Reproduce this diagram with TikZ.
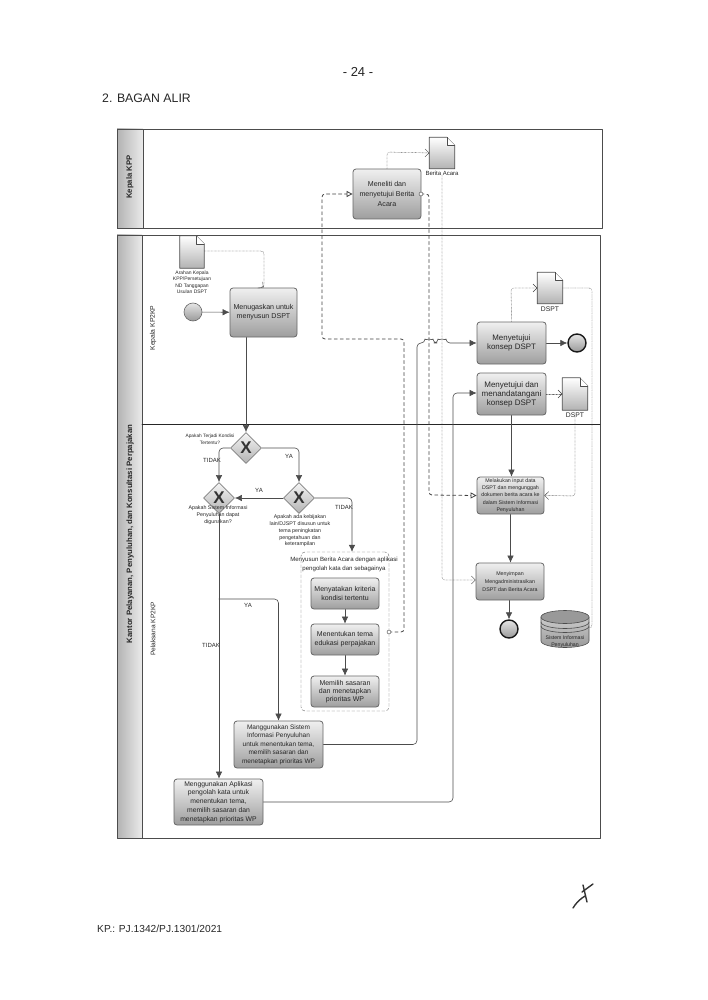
\documentclass[tikz,border=0pt]{standalone}
\usepackage{fontspec}
\setmainfont{Liberation Sans}
\usetikzlibrary{arrows.meta}
\usetikzlibrary{shapes.geometric}

\newcommand{\pxfont}[1]{\fontsize{#1}{#1}\selectfont}
\newcommand{\docshape}[1]{
  \draw[thick,color=black!70,top color=white,bottom color=black!30] (#1.north west) -- ([xshift=-8pt]#1.north east) -- ([yshift=-8pt]#1.north east) -- (#1.south east) -- (#1.south west) -- cycle;
  \draw[color=black!70,fill=white] ([xshift=-8pt]#1.north east) -- ([xshift=-8pt,yshift=-8pt]#1.north east) -- ([yshift=-8pt]#1.north east);
}

\begin{document}
\begin{tikzpicture}[x=1pt, y=-1pt, line cap = round, line join = round]
\tikzstyle{task}=[draw=black!60, thick, rounded corners=3pt, top color=black!6, bottom color=black!38, align=center, inner sep=0pt, text=black!85]
\tikzstyle{gate}=[diamond, draw=black!50, thick, top color=black!4, bottom color=black!30, inner sep=0pt, minimum width=31pt, minimum height=31pt, font=\pxfont{17}\bfseries, text=black!80]
\tikzstyle{startev}=[circle, draw=black!60, semithick, top color=black!10, bottom color=black!40, inner sep=0pt, minimum size=18pt]
\tikzstyle{endev}=[circle, draw=black!90, line width=1.4pt, top color=black!10, bottom color=black!40, inner sep=0pt, minimum size=18pt]
\tikzstyle{docbox}=[inner sep=0pt]
\tikzstyle{note}=[align=center, inner sep=0pt, text=black!85]
\tikzstyle{answer}=[note, font=\pxfont{6}]
\tikzstyle{flow}=[semithick, color=black!70, rounded corners=4pt, -{Latex[length=7pt,width=6.5pt]}]
\tikzstyle{msg}=[thick, dashed, color=black!75, rounded corners=3pt, -{Triangle[open,length=6pt,width=6pt]}]
\tikzstyle{assoc}=[densely dotted, color=black!75, rounded corners=3pt, -{Straight Barb[length=4pt,width=8pt]}]
\useasboundingbox (0,0) rectangle (708,1000);

\node[note, font=\pxfont{13}] (page) at (358,72) {- 24 -};
\node[note, font=\pxfont{12.3}, anchor=west] (title) at (102,98) {2. BAGAN ALIR};
\node[note, font=\pxfont{10.2}, anchor=west] (kpnum) at (97,929) {KP.: PJ.1342/PJ.1301/2021};

% lanes
\draw[semithick, color=black!70] (117,129) rectangle (602,228);
\draw[semithick, color=black!70, left color=black!30, right color=black!8] (117,129) rectangle (143,228);
\draw[semithick, color=black!70] (117,235) rectangle (600,838);
\draw[semithick, color=black!70, left color=black!30, right color=black!8] (117,235) rectangle (142,838);
\draw[thick, color=black!85] (142,424) -- (600,424);
\node[note, rotate=90, font=\pxfont{7.7}\bfseries] (kpp) at (130,177) {Kepala KPP};
\node[note, rotate=90, font=\pxfont{7.8}\bfseries] (kantor) at (130,534) {Kantor Pelayanan, Penyuluhan, dan Konsultasi Perpajakan};
\node[note, rotate=90, font=\pxfont{6.8}] (kepala) at (153,328) {Kepala KP2KP};
\node[note, rotate=90, font=\pxfont{6.6}] (pelaksana) at (153,629) {Pelaksana KP2KP};

% documents
\node[docbox, minimum width=24pt, minimum height=32pt] (arahan) at (192,252) {};
\node[docbox, minimum width=25pt, minimum height=31pt] (berita) at (442,153) {};
\node[docbox, minimum width=25pt, minimum height=31pt] (dspta) at (550,288) {};
\node[docbox, minimum width=25pt, minimum height=32pt] (dsptb) at (575,394) {};
\docshape{arahan}
\docshape{berita}
\docshape{dspta}
\docshape{dsptb}
\node[note, font=\pxfont{5}] (arahanlbl) at (192,282) {Arahan Kepala\\[1.5pt]KPP/Persetujuan\\[1.5pt]ND Tanggapan\\[1.5pt]Usulan DSPT};
\node[note, font=\pxfont{6}] (beritalbl) at (442,173) {Berita Acara};
\node[note, font=\pxfont{6.8}] (dsptalbl) at (550,309) {DSPT};
\node[note, font=\pxfont{6.8}] (dsptblbl) at (575,415) {DSPT};

% tasks
\node[startev] (start) at (193,312) {};
\node[task, minimum width=67pt, minimum height=49pt, font=\pxfont{7.1}] (tugas) at (263.5,312.5) {Menugaskan untuk\\[2pt]menyusun DSPT};
\node[task, minimum width=68pt, minimum height=50pt, font=\pxfont{7.1}] (teliti) at (387,194) {Meneliti dan\\[2.5pt]menyetujui Berita\\[2.5pt]Acara};
\node[task, minimum width=69pt, minimum height=42pt, font=\pxfont{7.9}] (konsep) at (511.5,343) {Menyetujui\\[2pt]konsep DSPT};
\node[endev] (endone) at (577,343) {};
\node[task, minimum width=69pt, minimum height=42pt, font=\pxfont{8}] (tanda) at (511.5,394) {Menyetujui dan\\[1pt]menandatangani\\[1pt]konsep DSPT};
\node[task, minimum width=67pt, minimum height=37pt, font=\pxfont{5.3}] (input) at (510.5,495.5) {Melakukan input data\\[2pt]DSPT dan mengunggah\\[2pt]dokumen berita acara ke\\[2pt]dalam Sistem Informasi\\[2pt]Penyuluhan};
\node[task, minimum width=68pt, minimum height=37pt, font=\pxfont{5.3}] (simpan) at (510,581.5) {Menyimpan\\[2.5pt]Mengadministrasikan\\[2.5pt]DSPT dan Berita Acara};
\node[endev] (endtwo) at (509,629) {};

% database
\draw[semithick, color=black!70, top color=black!20, bottom color=black!40] (541,617) -- (541,641) arc[start angle=180, end angle=360, x radius=24pt, y radius=6.5pt] -- (589,617);
\draw[semithick, color=black!70, fill=black!40] (565,617) ellipse[x radius=24pt, y radius=6.5pt];
\draw[semithick, color=black!70] (541,622) arc[start angle=180, end angle=360, x radius=24pt, y radius=6.5pt];
\draw[semithick, color=black!70] (541,626) arc[start angle=180, end angle=360, x radius=24pt, y radius=6.5pt];
\node[note, font=\pxfont{5.2}] (sistem) at (565,641.5) {Sistem Informasi\\[2pt]Penyuluhan};

% gateways
\node[gate] (gwkondisi) at (246,448) {X};
\node[gate] (gwsistem) at (219,498) {X};
\node[gate] (gwkebijakan) at (299,498) {X};
\node[note, font=\pxfont{4.8}] (kondisilbl) at (210,439) {Apakah Terjadi Kondisi\\[2pt]Tertentu?};
\node[note, font=\pxfont{5.3}] (sistemlbl) at (218,515) {Apakah Sistem Informasi\\[1.5pt]Penyuluhan dapat\\[1.5pt]digunakan?};
\node[note, font=\pxfont{5.3}] (kebijakanlbl) at (300,531) {Apakah ada kebijakan\\[1.5pt]lain/DJSPT disusun untuk\\[1.5pt]tema peningkatan\\[1.5pt]pengetahuan dan\\[1.5pt]keterampilan};

% group
\node[draw=black!60, densely dashed, rounded corners=4pt, minimum width=88pt, minimum height=159pt, inner sep=0pt] (group) at (345,631.5) {};
\node[note, font=\pxfont{6.1}] (grouplbl) at (344,564.5) {Menyusun Berita Acara dengan aplikasi\\[3pt]pengolah kata dan sebagainya};
\node[task, minimum width=68pt, minimum height=31pt, font=\pxfont{7}] (kriteria) at (345,593.5) {Menyatakan kriteria\\[2pt]kondisi tertentu};
\node[task, minimum width=68pt, minimum height=31pt, font=\pxfont{7}] (edukasi) at (345,639.5) {Menentukan tema\\[2pt]edukasi perpajakan};
\node[task, minimum width=68pt, minimum height=31pt, font=\pxfont{7}] (sasaran) at (345,691.5) {Memilih sasaran\\[1pt]dan menetapkan\\[1pt]prioritas WP};
\node[task, minimum width=89pt, minimum height=47pt, font=\pxfont{6.5}] (mansistem) at (278.5,744.5) {Manggunakan Sistem\\[2pt]Informasi Penyuluhan\\[2pt]untuk menentukan tema,\\[2pt]memilih sasaran dan\\[2pt]menetapkan prioritas WP};
\node[task, minimum width=89pt, minimum height=46pt, font=\pxfont{6.8}] (manaplikasi) at (218.5,802) {Menggunakan Aplikasi\\[2pt]pengolah kata untuk\\[2pt]menentukan tema,\\[2pt]memilih sasaran dan\\[2pt]menetapkan prioritas WP};

% answers
\node[answer] (tidaka) at (212,460) {TIDAK};
\node[answer] (yaa) at (289,456) {YA};
\node[answer] (yab) at (259,490) {YA};
\node[answer] (tidakb) at (344,507) {TIDAK};
\node[answer] (tidakc) at (211,645) {TIDAK};
\node[answer] (yac) at (248,605) {YA};

% free ends of connectors
\coordinate (branch) at (219,599);
\coordinate (dbend) at (589,628);
\coordinate (dotsource) at (389,632);
\coordinate (dotout) at (421,194);

\draw[flow] (start) -- (tugas);
\draw[flow] (tugas.south -| gwkondisi) -- (gwkondisi);
\draw[flow] (gwkondisi.west) -| (gwsistem.north);
\draw[flow] (gwkondisi.east) -| (gwkebijakan.north);
\draw[flow] (gwkebijakan.west) -- (gwsistem.east);
\draw[flow] (gwkebijakan.east) -| (group.north -| 352,552);
\draw[flow] (gwsistem.south) -- (manaplikasi.north -| gwsistem);
\draw[flow] (branch) -| (mansistem.north);
\draw[flow] (kriteria) -- (edukasi);
\draw[flow] (edukasi) -- (sasaran);
\draw[flow] (mansistem.east) -- (417,744.5) -- (417,343) -- (425,343) arc[start angle=180, end angle=0, radius=4pt] -- (438,343) arc[start angle=180, end angle=0, radius=4pt] -- (konsep.west);
\draw[flow] (manaplikasi.east) -- (453,802) -- (453,393) -- (tanda.west |- 453,393);
\draw[flow] (konsep) -- (endone);
\draw[flow] (tanda.south) -- (input.north -| tanda);
\draw[flow] (input.south) -- (simpan.north -| input);
\draw[flow] (simpan.south -| endtwo) -- (endtwo);

\draw[msg] (dotsource) -- (404,632) -- (404,339) -- (322,339) -- (322,194) -- (teliti.west);
\draw[msg] (dotout) -- (429,194) -- (429,495) -- (input.west);
\draw[color=black!75, fill=white] (dotsource) circle (2pt);
\draw[color=black!75, fill=white] (dotout) circle (2pt);

\draw[assoc] (arahan.east) ++(0,-1) -- (264,251) -- (264,288) -- (tugas.north);
\draw[assoc] (teliti.north) -- (387,152) -- (berita.west);
\draw[assoc] (beritalbl.south) -- (442,580) -- (simpan.west |- 442,580);
\draw[assoc] (konsep.north) -- (511,288) -- (dspta.west);
\draw[densely dotted, color=black!75, rounded corners=3pt] (dspta.east) -- (592,288) -- (592,628) -- (dbend);
\draw[assoc] (tanda.east) -- (dsptb.west);
\draw[assoc] (dsptblbl.south) -- (575,496) -- (input.east);

% paraf
\draw[line width=1.4pt, color=black!80] (573,908) .. controls (576,903) and (580,899) .. (585,896);
\draw[line width=1.4pt, color=black!80] (583,885) -- (587,902);
\draw[line width=1.4pt, color=black!80] (582,892) -- (593,884);
\end{tikzpicture}
\end{document}
